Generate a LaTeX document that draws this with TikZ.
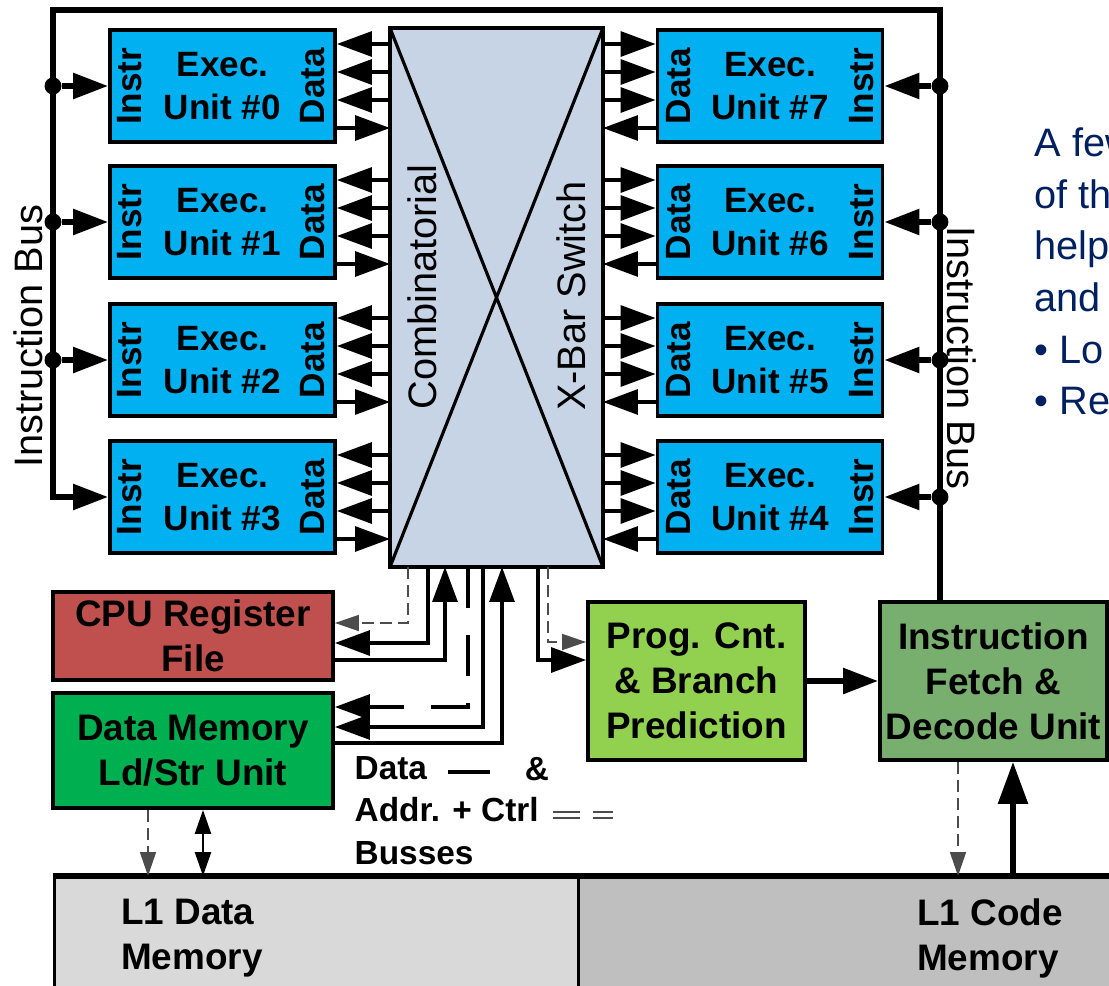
\documentclass[tikz,border=0pt]{standalone}
\usepackage{fontspec}
\setmainfont{Liberation Sans}
\usetikzlibrary{arrows.meta,calc}

\definecolor{unitblue}{HTML}{00B0F0}
\definecolor{xbarfill}{RGB}{199,212,229}
\definecolor{cpured}{HTML}{C0504D}
\definecolor{dmemgreen}{HTML}{00B050}
\definecolor{proggreen}{HTML}{92D050}
\definecolor{fetchgreen}{RGB}{120,174,110}
\definecolor{l1light}{HTML}{D9D9D9}
\definecolor{l1dark}{HTML}{BFBFBF}
\definecolor{notenavy}{HTML}{002060}

\newcommand\unitfont{\bfseries\fontsize{10}{12.2}\selectfont}
\newcommand\boxfont{\bfseries\fontsize{10.5}{12.8}\selectfont}
\newcommand\barfont{\fontsize{11.3}{13}\selectfont}
\newcommand\legendfont{\bfseries\fontsize{9.5}{12}\selectfont}
\newcommand\notefont{\fontsize{11.3}{14.7}\selectfont}

\tikzset{
    xbar diagram/.style = {x=0.1mm, y=-0.1mm,
                           >={Triangle[length=3.5mm, width=2.5mm]}},
    small tips/.style   = {>={Triangle[length=2.4mm, width=1.6mm]}},
    box/.style          = {draw, line width=1.1pt, align=center,
                           inner sep=0pt, font=\boxfont},
    unit/.style         = {box, fill=unitblue, font=\unitfont,
                           minimum width=22.5mm, minimum height=11.2mm},
    portlabel/.style    = {inner sep=0pt, rotate=90, font=\unitfont},
    xbar/.style         = {box, fill=xbarfill, outer sep=0pt,
                           minimum width=21.3mm, minimum height=53.9mm},
    barlabel/.style     = {inner sep=0pt, rotate=90, font=\barfont},
    buslabel/.style     = {inner sep=0pt, font=\barfont},
    mem/.style          = {draw, line width=0.8pt, anchor=north west,
                           minimum height=13mm},
    memtext/.style      = {inner sep=0pt, align=left, font=\boxfont},
    legendtext/.style   = {inner sep=0pt, align=left, font=\legendfont},
    note/.style         = {inner sep=0pt, align=left, text=notenavy,
                           font=\notefont},
    bus/.style          = {line width=1.6pt},
    dline/.style        = {line width=0.9pt},
    dashdata/.style     = {dline, dash pattern=on 4.1mm off 2.7mm},
    ctrl/.style         = {small tips, line width=0.5pt, black!70,
                           dash pattern=on 1.2mm off 0.6mm},
    junction/.style     = {circle, fill, inner sep=0.6mm}
}

\begin{document}
\begin{tikzpicture}[xbar diagram]
\useasboundingbox (0,0) rectangle (1109,986);
\clip (0,0) rectangle (1109,986);

% Execution units on both sides of the crossbar.
\foreach \i/\yy in {0/86, 1/222, 2/360, 3/497} {
    \node[unit] (L\i) at (222.5,\yy) {Exec.\\Unit \#\i};
    \node[portlabel] (L\i instr) at ($(L\i.west)+(22,0)$) {Instr};
    \node[portlabel] (L\i data) at ($(L\i.east)+(-24,0)$) {Data};
}
\foreach \i/\yy in {7/86, 6/222, 5/360, 4/497} {
    \node[unit] (R\i) at (770,\yy) {Exec.\\Unit \#\i};
    \node[portlabel] (R\i data) at ($(R\i.west)+(23,0)$) {Data};
    \node[portlabel] (R\i instr) at ($(R\i.east)+(-23,0)$) {Instr};
}

% Combinatorial crossbar switch.
\node[xbar] (xbar) at (496.5,297.5) {};
\draw[dline] (xbar.north west) -- (xbar.south east)
             (xbar.north east) -- (xbar.south west);
\node[barlabel] (comb) at (422,287) {Combinatorial};
\node[barlabel] (xbarname) at (571,296) {X-Bar Switch};

% Data ports between the units and the crossbar.
\foreach \i in {0,...,3} {
    \foreach \dy in {-42,-14,14}
        \draw[dline, <-] ($(L\i.east)+(0,\dy)$)
            -- ($(L\i.east -| xbar.west)+(0,\dy)$);
    \draw[dline, ->] ($(L\i.east)+(0,42)$)
        -- ($(L\i.east -| xbar.west)+(0,42)$);
}
\foreach \i in {4,...,7} {
    \foreach \dy in {-42,-14,14}
        \draw[dline, ->] ($(R\i.west -| xbar.east)+(0,\dy)$)
            -- ($(R\i.west)+(0,\dy)$);
    \draw[dline, ->] ($(R\i.west)+(0,42)$)
        -- ($(R\i.west -| xbar.east)+(0,42)$);
}

% Register file, load/store unit, branch prediction and fetch.
\node[box, fill=cpured, minimum width=28mm, minimum height=8.8mm]
    (cpu) at (193,636) {CPU Register\\File};
\node[box, fill=dmemgreen, minimum width=28mm, minimum height=11.5mm]
    (dmem) at (193,750.5) {Data Memory\\Ld/Str Unit};
\node[box, fill=proggreen, minimum width=21.7mm, minimum height=15.8mm]
    (prog) at (696.5,681) {Prog. Cnt.\\\& Branch\\Prediction};
\node[box, fill=fetchgreen, minimum width=22.7mm, minimum height=15.8mm]
    (fetch) at (993.5,681) {Instruction\\Fetch \&\\Decode Unit};
\draw[bus, ->] (prog.east) -- (fetch.west);

% Instruction bus from the fetch unit round to every unit.
\coordinate (ltop) at (53,10);
\coordinate (rtop) at (940,10);
\draw[bus, ->] (rtop |- fetch.north) -- (rtop) -- (ltop)
    -- (L3.west -| ltop) -- (L3.west);
\foreach \i in {0,1,2} {
    \node[junction] (jl\i) at (L\i.west -| ltop) {};
    \draw[bus, ->] (jl\i) -- (L\i.west);
}
\foreach \i in {4,...,7} {
    \node[junction] (jr\i) at (R\i.east -| rtop) {};
    \draw[bus, ->] (jr\i) -- (R\i.east);
}
\node[buslabel, rotate=90] (lbus) at (28,336) {Instruction Bus};
\node[buslabel, rotate=-90] (rbus) at (962,358) {Instruction Bus};

% Busses below the crossbar.
\draw[ctrl, ->] (xbar.south -| 408,0) |- (cpu.east |- 0,623);
\draw[dline, ->] (xbar.south -| 428,0) |- (cpu.east |- 0,643);
\draw[dline, ->] (cpu.east |- 0,660) -| (xbar.south -| 445,0);
\draw[dashdata, ->] (xbar.south -| 468,0) |- (dmem.east |- 0,707);
\draw[dline, ->] (xbar.south -| 483,0) |- (dmem.east |- 0,727);
\draw[dline, ->] (dmem.east |- 0,743) -| (xbar.south -| 502,0);
\draw[dline, ->] (xbar.south -| 538,0) |- (prog.west |- 0,660);
\draw[ctrl, ->] (xbar.south -| 548,0) |- (prog.west |- 0,642);

% Legend for the two kinds of busses.
\node[legendtext, anchor=north west] (legend) at (354,756)
    {Data\\Addr. + Ctrl\\Busses};
\node[legendtext] (legamp) at (537,769) {\&};
\draw[dline, line width=1.1pt] (448,772) -- (490,772);
\draw[ctrl, double, double distance=1pt, dash pattern=on 2.7mm off 1.3mm]
    (553,815) -- (613,815);

% Level-one memories.
\node[mem, fill=l1light, minimum width=52.4mm] (l1data) at (53,876) {};
\node[mem, fill=l1dark, minimum width=54mm] (l1code) at (577,876) {};
\draw[bus] (l1data.north west) -- (l1code.north east);
\node[memtext] (l1datatext) at (192,938) {L1 Data\\Memory};
\node[memtext] (l1codetext) at (990,938) {L1 Code\\Memory};
\draw[ctrl, ->] (dmem.south -| 148,0) -- (l1data.north -| 148,0);
\draw[small tips, line width=0.7pt, <->]
    (dmem.south -| 203,0) -- (l1data.north -| 203,0);
\draw[ctrl, ->] (fetch.south -| 958,0) -- (l1code.north -| 958,0);
\draw[bus, -{Triangle[length=4.2mm, width=2.9mm]}]
    (l1code.north -| 1013,0) -- (fetch.south -| 1013,0);

% Slide text cut off by the right edge.
\node[note, anchor=north west] (note) at (1034,127)
    {A few\\of th\\help\\and\\\textbullet\ Lo\\\textbullet\ Re};

\end{tikzpicture}
\end{document}
